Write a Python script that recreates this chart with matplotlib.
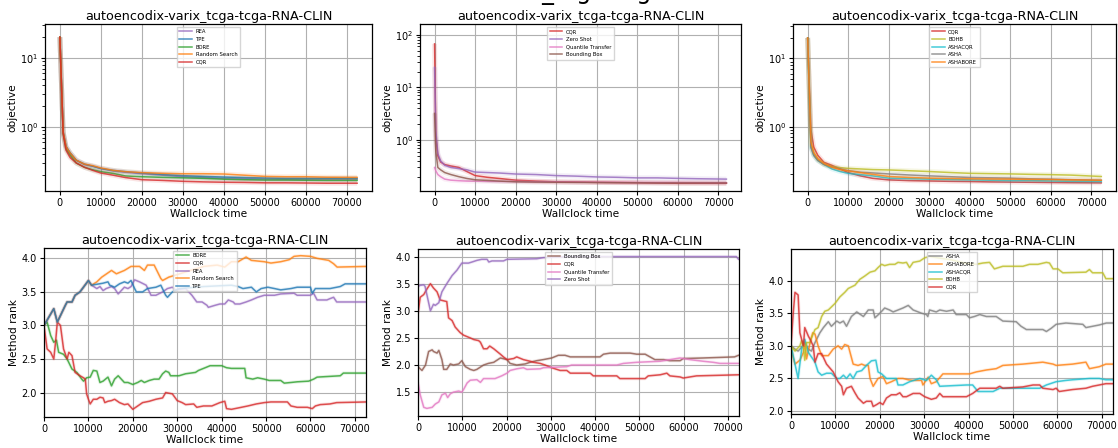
import matplotlib
matplotlib.use('Agg')
import matplotlib.pyplot as plt

plt.rcParams.update({
    'font.family': 'DejaVu Sans',
    'axes.titlesize': 9.2,
    'axes.labelsize': 7.6,
    'xtick.labelsize': 7,
    'ytick.labelsize': 7,
    'axes.linewidth': 0.9,
    'grid.color': '#b0b0b0',
    'grid.linewidth': 0.8,
})

TASK = "autoencodix-varix_tcga-tcga-RNA-CLIN"

# ---- best objective over wallclock time (log scale) ----
obj_a_time = [0, 400, 800, 1500, 2500, 4000, 6000, 8000, 10000, 13000, 16000, 20000,
              25000, 30000, 35000, 40000, 45000, 50000, 55000, 60000, 65000, 72500]
obj_a_rea = [20, 4.0, 0.85, 0.52, 0.42, 0.33, 0.285, 0.27, 0.25, 0.23, 0.22, 0.21,
             0.2, 0.19, 0.185, 0.18, 0.178, 0.176, 0.175, 0.175, 0.175, 0.175]
obj_a_tpe = [20, 4.0, 0.85, 0.52, 0.42, 0.33, 0.29, 0.27, 0.25, 0.235, 0.225, 0.215,
             0.205, 0.197, 0.192, 0.188, 0.185, 0.182, 0.18, 0.18, 0.18, 0.18]
obj_a_bore = [20, 4.0, 0.8, 0.48, 0.39, 0.3, 0.26, 0.24, 0.225, 0.212, 0.195, 0.19,
              0.186, 0.183, 0.18, 0.175, 0.172, 0.17, 0.17, 0.169, 0.168, 0.168]
obj_a_rs = [20, 4.0, 0.85, 0.52, 0.42, 0.33, 0.29, 0.275, 0.255, 0.235, 0.225, 0.218,
            0.213, 0.21, 0.21, 0.208, 0.2, 0.192, 0.19, 0.19, 0.187, 0.186]
obj_a_cqr = [20, 4.0, 0.8, 0.46, 0.36, 0.3, 0.26, 0.235, 0.215, 0.2, 0.185, 0.172,
             0.168, 0.163, 0.16, 0.158, 0.157, 0.155, 0.155, 0.154, 0.153, 0.153]

obj_b_time = [0, 300, 800, 1500, 2500, 4000, 6000, 8000, 10000, 13000, 16000, 20000,
              25000, 30000, 35000, 40000, 45000, 50000, 55000, 60000, 65000, 72000]
obj_b_cqr = [67, 1.2, 0.5, 0.38, 0.34, 0.32, 0.3, 0.25, 0.21, 0.195, 0.185, 0.172,
             0.165, 0.16, 0.158, 0.156, 0.155, 0.154, 0.152, 0.15, 0.15, 0.15]
obj_b_zero = [24, 1.5, 0.55, 0.4, 0.33, 0.3, 0.285, 0.27, 0.245, 0.24, 0.235, 0.225,
              0.22, 0.21, 0.205, 0.198, 0.195, 0.19, 0.19, 0.186, 0.183, 0.18]
obj_b_quant = [0.3, 0.26, 0.22, 0.2, 0.18, 0.172, 0.168, 0.165, 0.165, 0.163, 0.162, 0.162,
               0.16, 0.16, 0.158, 0.157, 0.156, 0.155, 0.155, 0.155, 0.154, 0.153]
obj_b_bbox = [3.2, 0.6, 0.3, 0.27, 0.24, 0.22, 0.2, 0.185, 0.175, 0.17, 0.165, 0.16,
              0.158, 0.157, 0.156, 0.155, 0.154, 0.153, 0.152, 0.152, 0.152, 0.152]

obj_c_time = obj_a_time
obj_c_cqr = [20, 4.0, 0.9, 0.5, 0.38, 0.3, 0.27, 0.24, 0.212, 0.19, 0.175, 0.166,
             0.162, 0.16, 0.158, 0.157, 0.155, 0.154, 0.153, 0.152, 0.151, 0.15]
obj_c_bohb = [20, 3.0, 0.55, 0.4, 0.33, 0.28, 0.26, 0.25, 0.245, 0.24, 0.235, 0.232,
              0.226, 0.22, 0.213, 0.207, 0.205, 0.203, 0.2, 0.198, 0.195, 0.186]
obj_c_ashacqr = [20, 3.0, 0.5, 0.38, 0.32, 0.28, 0.24, 0.22, 0.207, 0.198, 0.19, 0.176,
                 0.173, 0.17, 0.168, 0.166, 0.164, 0.162, 0.162, 0.16, 0.158, 0.157]
obj_c_asha = [20, 3.0, 0.5, 0.38, 0.32, 0.28, 0.255, 0.24, 0.227, 0.215, 0.21, 0.203,
              0.196, 0.19, 0.185, 0.18, 0.178, 0.176, 0.172, 0.17, 0.167, 0.164]
obj_c_ashabore = [20, 3.5, 0.6, 0.42, 0.34, 0.29, 0.255, 0.235, 0.225, 0.212, 0.2, 0.186,
                  0.18, 0.176, 0.174, 0.172, 0.171, 0.17, 0.169, 0.168, 0.166, 0.164]

# y ranges of the objective panels
obj_a_ylim = (0.118, 31)
obj_b_ylim = (0.107, 160)
obj_c_ylim = (0.114, 32)

# ---- average method rank over wallclock time ----
rank_a_bore_t = [0, 700, 1500, 2200, 2800, 3300, 4400, 5200, 6300, 7400, 8500, 8900, 9600,
                 10400, 11100, 11900, 12600, 13300, 14400, 15200, 15900, 16700, 17400, 18100,
                 18900, 20000, 21100, 21900, 22600, 23700, 24800, 25900, 26700, 27400, 28100,
                 28500, 30400, 31900, 34100, 34800, 36300, 37400, 40000, 41100, 42200, 45200,
                 45500, 47000, 48100, 49600, 50700, 53300, 54100, 55600, 57000, 59600, 60700,
                 61500, 66700, 67400, 72600]
rank_a_bore = [3.0, 3.05, 2.85, 2.75, 2.78, 2.6, 2.57, 2.5, 2.35, 2.3, 2.2, 2.17, 2.22,
               2.23, 2.33, 2.32, 2.15, 2.17, 2.23, 2.1, 2.2, 2.25, 2.2, 2.15,
               2.15, 2.12, 2.15, 2.18, 2.15, 2.18, 2.2, 2.2, 2.28, 2.32, 2.3,
               2.25, 2.25, 2.28, 2.3, 2.33, 2.37, 2.4, 2.4, 2.37, 2.36, 2.36,
               2.22, 2.2, 2.22, 2.2, 2.18, 2.18, 2.14, 2.15, 2.16, 2.17, 2.2,
               2.23, 2.25, 2.29, 2.29]
rank_a_cqr_t = [0, 700, 1500, 2200, 2600, 3000, 3700, 4400, 5200, 5600, 6300, 7000, 8100,
                8900, 9300, 9600, 10000, 10400, 11100, 11900, 12600, 13300, 13700, 14400,
                15200, 15900, 17000, 18100, 18900, 20000, 21100, 22200, 23700, 25200, 26700,
                27400, 28900, 30000, 31100, 31900, 33700, 34400, 35900, 37800, 39600, 40700,
                41100, 42200, 43700, 45900, 47800, 49600, 51100, 54800, 55600, 57000, 59300,
                60400, 61100, 62200, 64400, 65900, 72600]
rank_a_cqr = [3.0, 2.65, 2.6, 2.5, 2.75, 3.05, 3.0, 2.65, 2.5, 2.6, 2.55, 2.3, 2.25,
              2.22, 2.2, 1.98, 1.9, 1.83, 1.9, 1.9, 1.93, 1.92, 1.85, 1.87,
              1.88, 1.9, 1.85, 1.82, 1.83, 1.75, 1.8, 1.85, 1.87, 1.9, 1.92,
              2.0, 1.98, 1.88, 1.85, 1.82, 1.83, 1.78, 1.8, 1.8, 1.85, 1.87,
              1.76, 1.75, 1.77, 1.8, 1.83, 1.85, 1.86, 1.86, 1.8, 1.78, 1.78,
              1.76, 1.8, 1.82, 1.83, 1.85, 1.86]
rank_a_rea_t = [0, 2200, 3000, 4800, 5200, 6300, 7000, 8100, 10000, 10700, 11900, 12600,
                13300, 14000, 15200, 15900, 16700, 17400, 18100, 18900, 19600, 20400, 21500,
                23000, 24100, 25200, 26700, 27800, 28900, 29600, 31900, 33300, 34400, 35600,
                36700, 37000, 38500, 39600, 40700, 41500, 42600, 43000, 44100, 45500, 46700,
                48100, 49600, 51900, 53300, 56300, 57000, 60000, 60700, 61500, 63700, 64400,
                65200, 65900, 72600]
rank_a_rea = [3.0, 3.25, 3.05, 3.3, 3.35, 3.35, 3.45, 3.5, 3.67, 3.6, 3.55, 3.58,
              3.52, 3.55, 3.58, 3.55, 3.47, 3.52, 3.57, 3.55, 3.58, 3.68, 3.65,
              3.6, 3.45, 3.45, 3.5, 3.55, 3.57, 3.53, 3.55, 3.45, 3.35, 3.35,
              3.3, 3.27, 3.3, 3.32, 3.32, 3.38, 3.35, 3.32, 3.32, 3.35, 3.38,
              3.42, 3.45, 3.45, 3.47, 3.48, 3.45, 3.45, 3.48, 3.38, 3.38, 3.4,
              3.42, 3.35, 3.35]
rank_a_rs_t = [0, 2200, 3000, 4800, 5200, 6300, 7000, 8100, 10000, 10700, 11900, 13000,
               15200, 16300, 18100, 19600, 21500, 22600, 23300, 24800, 26300, 26700, 28100,
               29600, 32000, 36000, 39000, 40700, 42200, 43700, 45500, 46700, 49600, 51100,
               53300, 55200, 56300, 57800, 60000, 61500, 64100, 65200, 66000, 72600]
rank_a_rs = [3.0, 3.25, 3.05, 3.3, 3.35, 3.35, 3.45, 3.5, 3.67, 3.6, 3.65, 3.72,
             3.82, 3.77, 3.82, 3.88, 3.88, 3.82, 3.9, 3.9, 3.7, 3.67, 3.72,
             3.75, 3.8, 3.88, 3.9, 3.87, 3.95, 3.95, 4.02, 3.97, 3.95, 3.93,
             3.95, 3.98, 4.03, 4.04, 4.03, 4.0, 3.97, 3.92, 3.87, 3.88]
rank_a_tpe_t = [0, 2200, 3000, 4800, 5200, 6300, 7000, 8100, 10000, 10700, 13300, 14400,
                14800, 15900, 17000, 18100, 18900, 19600, 20400, 20800, 22200, 23300, 25200,
                26300, 27400, 27800, 28900, 30400, 36000, 42200, 43700, 44800, 46700, 47800,
                48900, 50400, 51900, 53300, 55600, 57000, 60000, 60400, 61100, 64400, 66700,
                67800, 72600]
rank_a_tpe = [3.0, 3.25, 3.05, 3.3, 3.35, 3.35, 3.45, 3.5, 3.67, 3.6, 3.63, 3.65,
              3.6, 3.57, 3.62, 3.65, 3.63, 3.67, 3.55, 3.5, 3.5, 3.55, 3.57,
              3.6, 3.45, 3.42, 3.5, 3.55, 3.58, 3.6, 3.58, 3.55, 3.57, 3.5,
              3.55, 3.57, 3.55, 3.53, 3.55, 3.57, 3.57, 3.48, 3.55, 3.55, 3.58,
              3.62, 3.62]

rank_b_bbox_t = [0, 500, 900, 1700, 2400, 3200, 3500, 4300, 4700, 5000, 5400, 5800, 6500,
                 7300, 8000, 9200, 9900, 10700, 11800, 12600, 13300, 14800, 15900, 17100,
                 18600, 20100, 20800, 22300, 24200, 25300, 26800, 28300, 30200, 31700, 33200,
                 34400, 41100, 41900, 43400, 47900, 49400, 51300, 52400, 53500, 55500, 56900,
                 59200, 59900, 64400, 71500, 72400]
rank_b_bbox = [1.97, 1.93, 1.9, 2.0, 2.25, 2.28, 2.25, 2.22, 2.27, 2.2, 2.1, 1.92, 1.92,
               2.02, 2.0, 2.02, 2.08, 1.97, 1.92, 1.9, 1.92, 2.0, 2.03, 2.05,
               2.13, 2.1, 2.03, 2.0, 2.02, 2.05, 2.08, 2.1, 2.13, 2.18, 2.18,
               2.15, 2.15, 2.2, 2.22, 2.22, 2.2, 2.2, 2.15, 2.1, 2.1, 2.08,
               2.08, 2.12, 2.13, 2.15, 2.18]
rank_b_cqr_t = [0, 500, 1300, 2000, 2800, 3500, 4300, 5000, 6500, 6900, 7700, 8400, 9500,
                10300, 11800, 12600, 13700, 14100, 14800, 15600, 16200, 17100, 18600, 19300,
                20100, 21600, 22300, 23800, 25300, 26100, 27600, 28700, 30200, 32100, 33600,
                34400, 38900, 39600, 44900, 45600, 51300, 52000, 54700, 56200, 56900, 59200,
                59900, 61400, 62900, 72400]
rank_b_cqr = [2.95, 3.25, 3.3, 3.4, 3.5, 3.42, 3.35, 3.2, 3.17, 2.87, 2.82, 2.7, 2.6,
              2.55, 2.5, 2.47, 2.45, 2.42, 2.3, 2.3, 2.35, 2.3, 2.2, 2.15,
              2.1, 2.12, 2.15, 2.1, 2.07, 2.05, 2.03, 2.0, 1.95, 1.9, 1.9,
              1.85, 1.85, 1.8, 1.8, 1.75, 1.75, 1.8, 1.82, 1.85, 1.8, 1.78,
              1.76, 1.78, 1.8, 1.82]
rank_b_quant_t = [0, 500, 1300, 2000, 3200, 3900, 4700, 5400, 6200, 6700, 7300, 8000, 9200,
                  9900, 10300, 11100, 11800, 13300, 14100, 14800, 17400, 18900, 20100, 20800,
                  22300, 23800, 24600, 27600, 28300, 33600, 34700, 44900, 46400, 49400, 54700,
                  56900, 59200, 61400, 64400, 66700, 68200, 72400]
rank_b_quant = [1.68, 1.45, 1.22, 1.2, 1.22, 1.28, 1.32, 1.45, 1.48, 1.4, 1.47, 1.5, 1.52,
                1.5, 1.55, 1.67, 1.72, 1.73, 1.68, 1.75, 1.75, 1.8, 1.85, 1.9,
                1.93, 1.95, 1.92, 1.93, 1.95, 1.97, 2.0, 2.0, 2.03, 2.05, 2.07,
                2.1, 2.13, 2.1, 2.07, 2.05, 2.03, 2.03]
rank_b_zero_t = [0, 500, 1300, 1600, 2000, 2800, 3500, 3900, 4700, 5400, 6500, 7700, 8800,
                 9900, 11400, 12200, 13300, 14400, 15600, 16000, 16700, 19300, 20100, 26800,
                 28300, 34000, 71900, 72400]
rank_b_zero = [3.45, 3.47, 3.48, 3.45, 3.3, 3.0, 3.12, 3.1, 3.15, 3.35, 3.5, 3.65, 3.75,
               3.88, 3.88, 3.9, 3.93, 3.95, 3.95, 3.9, 3.92, 3.92, 3.95, 3.96,
               3.98, 4.0, 4.0, 3.95]

rank_c_asha_t = [0, 900, 1600, 2400, 3100, 3900, 4600, 5400, 6500, 7300, 8400, 9100, 10300,
                 11000, 11800, 12500, 13600, 14800, 16300, 17400, 18500, 18900, 20000, 21100,
                 22200, 23000, 24100, 25200, 26400, 27500, 29400, 30500, 30800, 31200, 32700,
                 33500, 35000, 36500, 37200, 39500, 40200, 41300, 42500, 44000, 46200, 47700,
                 50700, 51800, 53000, 55200, 56700, 57500, 58600, 59700, 61900, 65700, 66400,
                 67900, 69400, 71000, 72500]
rank_c_asha = [3.0, 2.95, 2.92, 2.98, 3.05, 2.95, 2.92, 3.05, 3.2, 3.28, 3.37, 3.3, 3.38,
               3.35, 3.38, 3.3, 3.45, 3.52, 3.45, 3.55, 3.55, 3.43, 3.5, 3.58,
               3.55, 3.52, 3.55, 3.58, 3.62, 3.55, 3.5, 3.48, 3.45, 3.55, 3.52,
               3.55, 3.53, 3.55, 3.48, 3.48, 3.43, 3.45, 3.48, 3.45, 3.45, 3.38,
               3.37, 3.3, 3.25, 3.25, 3.25, 3.22, 3.27, 3.33, 3.35, 3.33, 3.28,
               3.3, 3.32, 3.35, 3.35]
rank_c_ashabore_t = [0, 500, 900, 2000, 2800, 3100, 3500, 4300, 4900, 5400, 6100, 6900, 8400,
                     9500, 10600, 11400, 12100, 12900, 14000, 15100, 15900, 16600, 17400, 17800,
                     18500, 19600, 20700, 21500, 22600, 24100, 25200, 26400, 27500, 29400, 29700,
                     30900, 31600, 32700, 34200, 40200, 41700, 44000, 46200, 47700, 52200, 56700,
                     59000, 59700, 63400, 66400, 67200, 69400, 70900, 72500]
rank_c_ashabore = [3.0, 2.82, 2.72, 2.78, 2.9, 3.05, 2.8, 3.05, 3.2, 3.18, 3.0, 2.85, 2.85,
                   2.95, 3.0, 2.95, 3.02, 3.0, 2.72, 2.7, 2.72, 2.7, 2.7, 2.5,
                   2.38, 2.5, 2.53, 2.42, 2.45, 2.5, 2.5, 2.48, 2.47, 2.47, 2.4,
                   2.52, 2.42, 2.45, 2.57, 2.57, 2.6, 2.63, 2.65, 2.7, 2.72, 2.75,
                   2.72, 2.7, 2.72, 2.75, 2.65, 2.68, 2.72, 2.72]
rank_c_ashacqr_t = [0, 900, 1600, 2400, 3100, 3900, 4600, 5400, 6100, 6900, 8000, 9100, 10300,
                    11000, 11800, 12500, 13300, 14000, 14800, 15900, 17000, 18100, 19100, 19600,
                    20400, 21500, 23700, 24100, 25200, 26700, 29000, 30500, 31600, 32700, 33500,
                    39500, 40900, 42100, 45500, 47000, 56000, 57500, 59700, 61900, 63400, 67200,
                    69400, 70900, 72500]
rank_c_ashacqr = [3.0, 2.72, 2.5, 2.95, 3.1, 2.9, 2.83, 2.75, 2.6, 2.55, 2.58, 2.58, 2.5,
                  2.5, 2.55, 2.5, 2.57, 2.5, 2.6, 2.62, 2.7, 2.77, 2.78, 2.6,
                  2.57, 2.5, 2.5, 2.4, 2.4, 2.45, 2.5, 2.47, 2.55, 2.48, 2.38,
                  2.4, 2.4, 2.3, 2.3, 2.35, 2.35, 2.4, 2.45, 2.47, 2.48, 2.5,
                  2.5, 2.48, 2.48]
rank_c_bohb_t = [0, 900, 2000, 2400, 2800, 3100, 3500, 4300, 4600, 5400, 6100, 6900, 7600,
                 8400, 9900, 11000, 12100, 12900, 14400, 15500, 16600, 17800, 18900, 19600,
                 20400, 21100, 22200, 23400, 24100, 25200, 26000, 26700, 27500, 29000, 30100,
                 31200, 33000, 36000, 39000, 41700, 43200, 44700, 45800, 47700, 52200, 53700,
                 55600, 57500, 58200, 59000, 60100, 61200, 66400, 67200, 67900, 70200, 70900,
                 72500]
rank_c_bohb = [3.0, 2.92, 3.0, 3.08, 2.98, 2.78, 3.05, 3.05, 3.12, 3.25, 3.28, 3.45, 3.53,
               3.55, 3.65, 3.75, 3.82, 3.88, 3.93, 4.02, 4.07, 4.13, 4.15, 4.2,
               4.25, 4.23, 4.25, 4.25, 4.28, 4.27, 4.28, 4.2, 4.28, 4.3, 4.35,
               4.37, 4.35, 4.32, 4.27, 4.25, 4.27, 4.28, 4.18, 4.22, 4.22, 4.25,
               4.25, 4.28, 4.27, 4.18, 4.18, 4.12, 4.13, 4.17, 4.12, 4.12, 4.03,
               4.03]
rank_c_cqr_t = [0, 500, 900, 1600, 2000, 2800, 3100, 3900, 4300, 5000, 5400, 6100, 6900,
                8000, 9500, 10600, 11400, 11800, 12500, 13600, 14400, 15100, 16300, 17000,
                18100, 18500, 19300, 20000, 20700, 21500, 22600, 23700, 24500, 25200, 26000,
                27500, 29000, 30100, 31600, 32700, 33500, 34200, 39500, 40900, 42500, 46200,
                47000, 47700, 52200, 54500, 56000, 56700, 59000, 59700, 60400, 63400, 66400,
                67900, 69400, 70900, 72500]
rank_c_cqr = [3.0, 3.5, 3.82, 3.78, 3.2, 3.0, 3.28, 3.15, 3.1, 3.0, 2.75, 2.88, 2.88,
              2.72, 2.6, 2.45, 2.38, 2.25, 2.35, 2.38, 2.28, 2.2, 2.12, 2.15,
              2.15, 2.07, 2.1, 2.13, 2.1, 2.2, 2.25, 2.25, 2.28, 2.22, 2.22,
              2.27, 2.27, 2.22, 2.18, 2.2, 2.27, 2.22, 2.22, 2.27, 2.35, 2.35,
              2.38, 2.35, 2.37, 2.4, 2.4, 2.35, 2.33, 2.35, 2.3, 2.33, 2.35,
              2.38, 2.4, 2.42, 2.42]

COLORS = {
    'REA': 'tab:purple', 'TPE': 'tab:blue', 'BORE': 'tab:green',
    'Random Search': 'tab:orange', 'CQR': 'tab:red', 'Zero Shot': 'tab:purple',
    'Quantile Transfer': 'tab:pink', 'Bounding Box': 'tab:brown', 'BOHB': 'tab:olive',
    'ASHACQR': 'tab:cyan', 'ASHA': 'tab:gray', 'ASHABORE': 'tab:orange',
}

W, H = 1118, 448


def add_axes(fig, left, top, right, bottom):
    # pixel box -> figure fraction
    return fig.add_axes([left / W, (H - bottom) / H, (right - left) / W, (bottom - top) / H])


def draw(ax, series, ylim=None, ylabel='objective', rank=False):
    halo = 2.4 if rank else 3.5
    for name, t, v in series:
        c = COLORS[name]
        ax.plot(t, v, color=c, lw=halo, alpha=0.12, solid_capstyle='butt')
        ax.plot(t, v, color=c, lw=1.1, alpha=0.8, label=name)
    if ylim is not None:
        ax.set_yscale('log')
        ax.set_ylim(*ylim)
    if rank:
        ax.set_xlim(0, 72500)
    ax.grid(True)
    ax.set_title(TASK, pad=3)
    ax.set_xlabel('Wallclock time', labelpad=1)
    ax.set_ylabel(ylabel, labelpad=2)
    ax.tick_params(length=3, pad=2)
    ax.legend(loc='upper center', fontsize=3.8, handlelength=2.4, labelspacing=0.5,
              borderpad=0.5, handletextpad=0.7, framealpha=0.8, fancybox=False,
              edgecolor='#cccccc')


fig = plt.figure(figsize=(W / 100, H / 100), dpi=100)

ax1 = add_axes(fig, 45, 24, 372, 191)
draw(ax1, [('REA', obj_a_time, obj_a_rea), ('TPE', obj_a_time, obj_a_tpe),
           ('BORE', obj_a_time, obj_a_bore), ('Random Search', obj_a_time, obj_a_rs),
           ('CQR', obj_a_time, obj_a_cqr)], ylim=obj_a_ylim)

ax2 = add_axes(fig, 420, 24, 741, 191)
draw(ax2, [('CQR', obj_b_time, obj_b_cqr), ('Zero Shot', obj_b_time, obj_b_zero),
           ('Quantile Transfer', obj_b_time, obj_b_quant),
           ('Bounding Box', obj_b_time, obj_b_bbox)], ylim=obj_b_ylim)

ax3 = add_axes(fig, 793, 24, 1116, 191)
draw(ax3, [('CQR', obj_c_time, obj_c_cqr), ('BOHB', obj_c_time, obj_c_bohb),
           ('ASHACQR', obj_c_time, obj_c_ashacqr), ('ASHA', obj_c_time, obj_c_asha),
           ('ASHABORE', obj_c_time, obj_c_ashabore)], ylim=obj_c_ylim)

ax4 = add_axes(fig, 44, 248, 366, 417)
draw(ax4, [('BORE', rank_a_bore_t, rank_a_bore), ('CQR', rank_a_cqr_t, rank_a_cqr),
           ('REA', rank_a_rea_t, rank_a_rea), ('Random Search', rank_a_rs_t, rank_a_rs),
           ('TPE', rank_a_tpe_t, rank_a_tpe)], ylabel='Method rank', rank=True)

ax5 = add_axes(fig, 418, 249, 739, 416)
draw(ax5, [('Bounding Box', rank_b_bbox_t, rank_b_bbox), ('CQR', rank_b_cqr_t, rank_b_cqr),
           ('Quantile Transfer', rank_b_quant_t, rank_b_quant),
           ('Zero Shot', rank_b_zero_t, rank_b_zero)], ylabel='Method rank', rank=True)

ax6 = add_axes(fig, 791, 249, 1113, 414)
draw(ax6, [('ASHA', rank_c_asha_t, rank_c_asha), ('ASHABORE', rank_c_ashabore_t, rank_c_ashabore),
           ('ASHACQR', rank_c_ashacqr_t, rank_c_ashacqr), ('BOHB', rank_c_bohb_t, rank_c_bohb),
           ('CQR', rank_c_cqr_t, rank_c_cqr)], ylabel='Method rank', rank=True)

# overall heading, sits mostly above the canvas
fig.text(0.5, 1 + 1.5 / H, TASK, ha='center', va='baseline', fontsize=17)

fig.savefig('out.png', dpi=100)
